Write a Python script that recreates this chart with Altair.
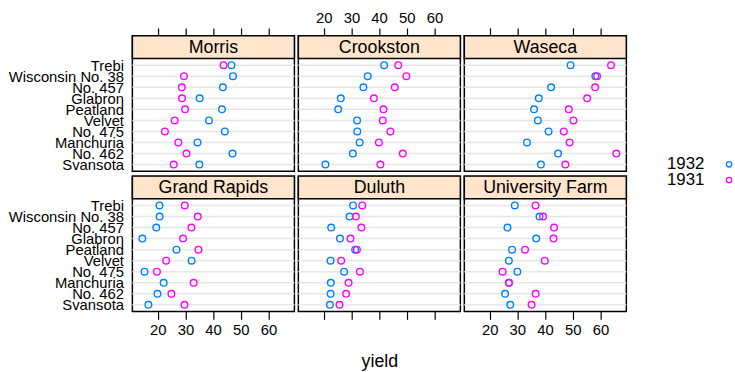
import altair as alt
import pandas as pd

# Barley yields (bushels/acre) by site, variety and year
varieties = ["Trebi", "Wisconsin No. 38", "No. 457", "Glabron", "Peatland",
             "Velvet", "No. 475", "Manchuria", "No. 462", "Svansota"]
top_sites = ["Morris", "Crookston", "Waseca"]
bottom_sites = ["Grand Rapids", "Duluth", "University Farm"]
years = ["1932", "1931"]
year_colors = ["#0080ff", "#ff00ff"]
tick_values = [20, 30, 40, 50, 60]

yield_1932 = {
    "Morris":          [46.63, 47.17, 43.53, 35.13, 43.20, 38.50, 44.23, 34.37, 47.00, 35.03],
    "Crookston":       [41.83, 35.90, 34.33, 26.17, 25.23, 32.07, 32.13, 32.97, 30.53, 20.63],
    "Waseca":          [49.23, 58.17, 42.20, 37.73, 36.03, 37.40, 41.27, 33.47, 44.70, 38.50],
    "Grand Rapids":    [20.63, 20.67, 19.47, 14.43, 26.77, 32.23, 15.23, 22.13, 19.90, 16.63],
    "Duluth":          [30.60, 29.33, 22.70, 25.87, 31.37, 22.47, 27.37, 22.57, 22.50, 22.23],
    "University Farm": [29.07, 38.00, 26.43, 36.80, 28.07, 26.93, 30.00, 26.90, 25.57, 27.43],
}
yield_1931 = {
    "Morris":          [43.77, 29.47, 28.70, 28.77, 29.87, 26.13, 22.60, 27.43, 30.37, 25.77],
    "Crookston":       [46.93, 49.87, 45.67, 38.13, 41.60, 41.33, 44.10, 39.93, 48.57, 40.47],
    "Waseca":          [63.83, 58.80, 58.10, 55.20, 48.57, 50.23, 46.77, 48.87, 65.77, 47.33],
    "Grand Rapids":    [29.77, 34.47, 32.17, 29.13, 34.70, 23.03, 19.70, 32.97, 24.93, 29.67],
    "Duluth":          [33.93, 31.60, 33.60, 29.67, 32.00, 26.30, 33.07, 28.97, 28.10, 25.70],
    "University Farm": [36.57, 39.30, 43.27, 43.07, 32.77, 39.90, 24.67, 27.00, 36.60, 35.13],
}

rows = []
for year, table in (("1932", yield_1932), ("1931", yield_1931)):
    for site, values in table.items():
        for variety, value in zip(varieties, values):
            rows.append({"site": site, "variety": variety, "year": year, "yield": value})
barley = pd.DataFrame(rows)

# Panel geometry (strip on top of each plotting region)
PANEL_W = 164
STRIP_H = 23
PLOT_H = 114
PANEL_H = STRIP_H + PLOT_H
KEY_W = 105
FONT = "Liberation Sans"

lo, hi = barley["yield"].min(), barley["yield"].max()
pad = 0.07 * (hi - lo)
x_scale = alt.Scale(domain=[lo - pad, hi + pad], nice=False, zero=False)
y_scale = alt.Scale(type="point", domain=varieties, range=[STRIP_H, PANEL_H], padding=0.6)
color_scale = alt.Scale(domain=years, range=year_colors)
color = alt.Color("year:N", scale=color_scale, legend=None)


def panel(site, top, col):
    show_labels = (top and col == 1) or ((not top) and col != 1)
    axis_kw = dict(orient="top" if top else "bottom", values=tick_values, labels=show_labels,
                   ticks=True, tickSize=8, tickColor="black", tickWidth=1.2, domain=False,
                   grid=False, labelFontSize=15, labelFont=FONT, labelColor="black",
                   labelPadding=3)
    if (not top) and col == 1:
        x = alt.X("yield:Q", scale=x_scale, title="yield",
                  axis=alt.Axis(titleFontSize=18, titleFont=FONT, titleFontWeight="normal",
                                titleColor="black", titlePadding=33, **axis_kw))
    else:
        x = alt.X("yield:Q", scale=x_scale, title=None, axis=alt.Axis(**axis_kw))

    if col == 0:
        y_axis = alt.Axis(ticks=False, domain=False, grid=False, labelFontSize=15,
                          labelFont=FONT, labelColor="black", labelPadding=9,
                          labelOverlap=False, labelBound=False)
        y = alt.Y("variety:N", scale=y_scale, sort=varieties, title=None, axis=y_axis)
    else:
        y = alt.Y("variety:N", scale=y_scale, sort=varieties, title=None, axis=None)

    label = pd.DataFrame({"site": [site]})
    strip = alt.Chart(label).mark_rect(fill="#ffe5cc", stroke="black", strokeWidth=1.5).encode(
        x=alt.value(0), x2=alt.value(PANEL_W), y=alt.value(0), y2=alt.value(STRIP_H))
    strip_text = alt.Chart(label).mark_text(font=FONT, fontSize=18, color="black",
                                            baseline="middle").encode(
        text="site:N", x=alt.value(PANEL_W / 2), y=alt.value(STRIP_H / 2 + 1))
    guides = alt.Chart(pd.DataFrame({"variety": varieties})).mark_rule(
        color="#e6e6e6", strokeWidth=1.5).encode(y=y)
    points = alt.Chart(barley[barley["site"] == site]).mark_point(
        shape="circle", filled=False, size=45, strokeWidth=1.4, opacity=1).encode(
        x=x, y=y, color=color)
    return alt.layer(strip, strip_text, guides, points).properties(
        width=PANEL_W, height=PANEL_H)


# Key: year labels to the left of their symbols
key_data = pd.DataFrame({"year": years})
key_y = alt.Y("year:N", sort=years, title=None, axis=None,
              scale=alt.Scale(type="point", domain=years, range=[130, 146], padding=0))
key_text = alt.Chart(key_data).mark_text(font=FONT, fontSize=17, color="black",
                                         align="right", baseline="middle").encode(
    text="year:N", x=alt.value(77), y=key_y)
key_pts = alt.Chart(key_data).mark_point(shape="circle", filled=False, size=30,
                                         strokeWidth=1.3, opacity=1).encode(
    x=alt.value(102), y=key_y, color=color)
key = alt.layer(key_text, key_pts).properties(width=KEY_W, height=2 * PANEL_H, view={"stroke": None})

top_row = alt.hconcat(*[panel(s, True, i) for i, s in enumerate(top_sites)], spacing=0)
bottom_row = alt.hconcat(*[panel(s, False, i) for i, s in enumerate(bottom_sites)], spacing=0)
grid = alt.vconcat(top_row, bottom_row, spacing=0)

chart = alt.hconcat(grid, key, spacing=0).properties(
    padding={"left": 7, "top": 7, "right": 0, "bottom": 0},
    background="white",
).configure_view(stroke="black", strokeWidth=1.5)

chart.save("out.html", embed_options={"renderer": "svg", "actions": False})
